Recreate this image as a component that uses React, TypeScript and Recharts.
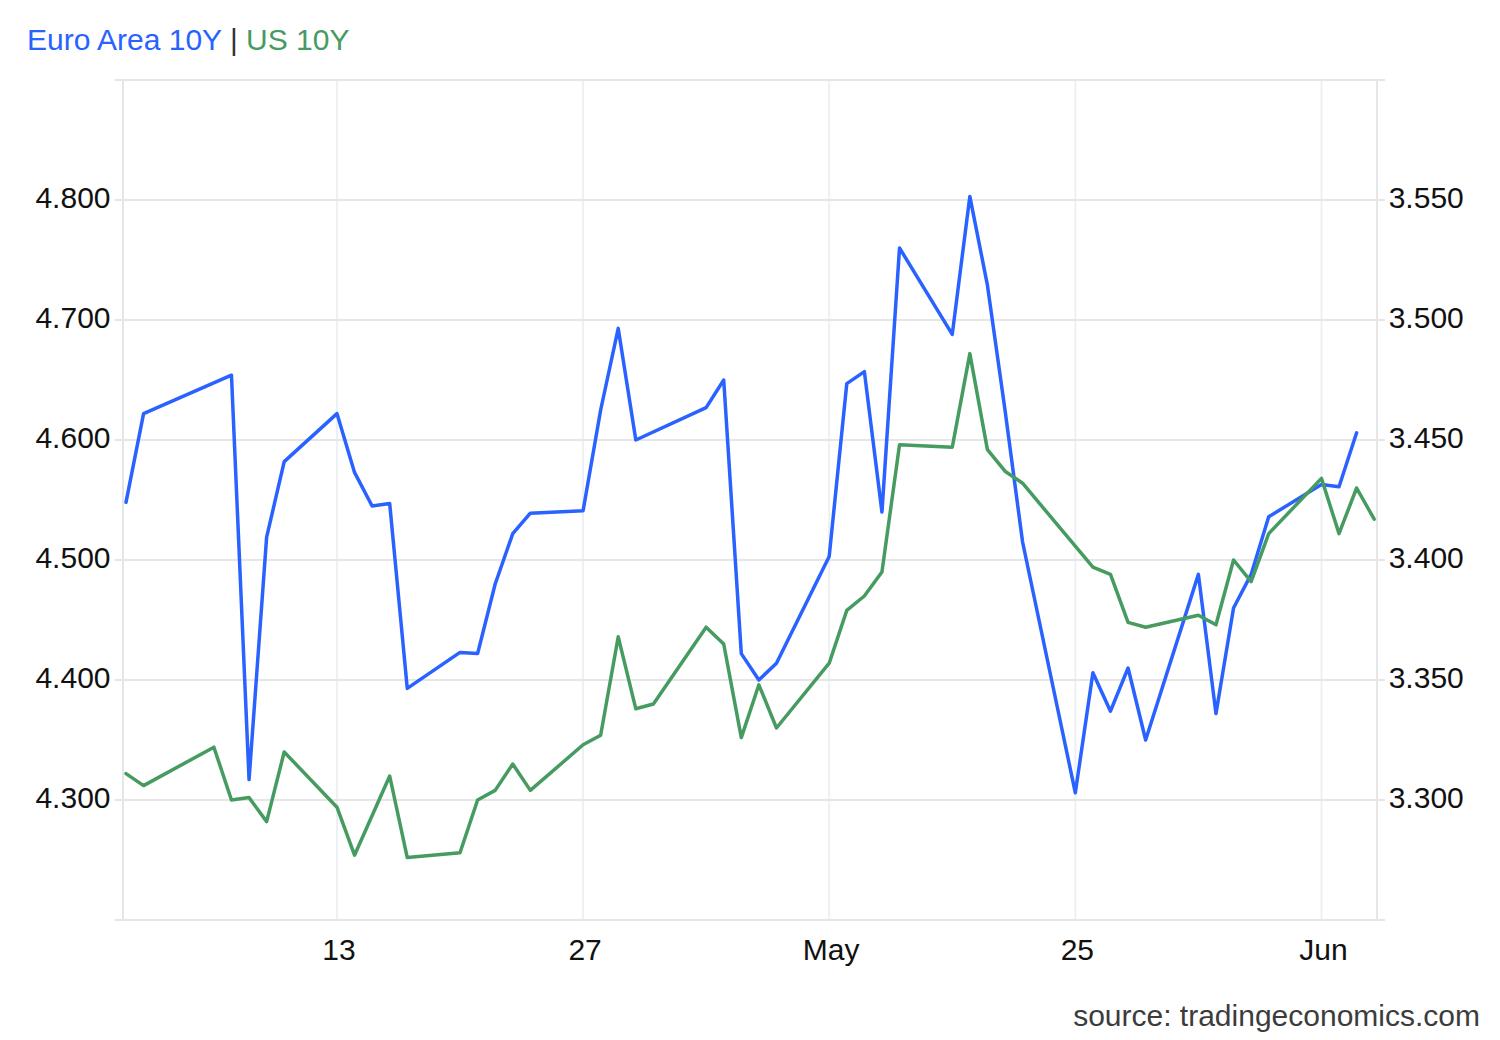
import React from "react";
import { LineChart, Line, XAxis, YAxis, CartesianGrid } from "recharts";

// x = day count, 1 = 1 Apr; ticks on 13 Apr, 27 Apr, 11 May, 25 May, 8 Jun
const euroDays = [
  1, 2, 7, 8, 9, 10, 13, 14, 15, 16, 17, 20, 21, 22, 23, 24, 27, 28, 29, 30,
  34, 35, 36, 37, 38, 41, 42, 43, 44, 45, 48, 49, 50, 51, 52, 55, 56, 57, 58,
  59, 62, 63, 64, 65, 66, 69, 70, 71,
];
const euroYields = [
  4.548, 4.622, 4.654, 4.317, 4.519, 4.582, 4.622, 4.573, 4.545, 4.547, 4.393,
  4.423, 4.422, 4.48, 4.522, 4.539, 4.541, 4.625, 4.693, 4.6, 4.627, 4.65,
  4.422, 4.4, 4.414, 4.503, 4.647, 4.657, 4.54, 4.76, 4.688, 4.803, 4.729,
  4.625, 4.515, 4.306, 4.406, 4.374, 4.41, 4.35, 4.488, 4.372, 4.46, 4.488,
  4.536, 4.563, 4.561, 4.606,
];

const usDays = [
  1, 2, 6, 7, 8, 9, 10, 13, 14, 16, 17, 20, 21, 22, 23, 24, 27, 28, 29, 30,
  31, 34, 35, 36, 37, 38, 41, 42, 43, 44, 45, 48, 49, 50, 51, 52, 56, 57, 58,
  59, 62, 63, 64, 65, 66, 69, 70, 71, 72,
];
const usYields = [
  3.311, 3.306, 3.322, 3.3, 3.301, 3.291, 3.32, 3.297, 3.277, 3.31, 3.276,
  3.278, 3.3, 3.304, 3.315, 3.304, 3.323, 3.327, 3.368, 3.338, 3.34, 3.372,
  3.365, 3.326, 3.348, 3.33, 3.357, 3.379, 3.385, 3.395, 3.448, 3.447, 3.486,
  3.446, 3.437, 3.432, 3.397, 3.394, 3.374, 3.372, 3.377, 3.373, 3.4, 3.391,
  3.411, 3.434, 3.411, 3.43, 3.417,
];

const xTicks = [13, 27, 41, 55, 69];
const xTickLabels = ["13", "27", "May", "25", "Jun"];
const leftTicks = [4.2, 4.3, 4.4, 4.5, 4.6, 4.7, 4.8, 4.9];
const rightTicks = [3.25, 3.3, 3.35, 3.4, 3.45, 3.5, 3.55, 3.6];

const euroData = euroDays.map((d, i) => ({ d, v: euroYields[i] }));
const usData = usDays.map((d, i) => ({ d, v: usYields[i] }));

const FONT = 'Arial, "Liberation Sans", Helvetica, sans-serif';
const BLUE = "#2962ff";
const GREEN = "#469b61";
const GRID = "#e6e6e6";

const isEnd = (v: number, ticks: number[]) =>
  Math.abs(v - ticks[0]) < 1e-6 || Math.abs(v - ticks[ticks.length - 1]) < 1e-6;

function LeftTick({ x, y, payload }: any) {
  if (isEnd(payload.value, leftTicks)) return <g />;
  return (
    <text x={x} y={y + 7.5} textAnchor="end" fontSize={30} fontFamily={FONT} fill="#111">
      {payload.value.toFixed(3)}
    </text>
  );
}

function RightTick({ x, y, payload }: any) {
  if (isEnd(payload.value, rightTicks)) return <g />;
  return (
    <text x={x} y={y + 8} textAnchor="start" fontSize={30} fontFamily={FONT} fill="#111">
      {payload.value.toFixed(3)}
    </text>
  );
}

function DateTick({ x, y, payload }: any) {
  const i = xTicks.indexOf(payload.value);
  return (
    <text x={x + 2} y={y + 32} textAnchor="middle" fontSize={30} fontFamily={FONT} fill="#111">
      {xTickLabels[i]}
    </text>
  );
}

export default function App() {
  return (
    <div style={{ position: "absolute", left: 0, top: 0, width: 1500, height: 1040, background: "#fff" }}>
      <LineChart width={1500} height={1040} margin={{ top: 80, right: 0, bottom: 60, left: 0 }}>
        <CartesianGrid yAxisId="left" horizontal={false} stroke="#edf0f4" strokeWidth={2} />
        <CartesianGrid yAxisId="left" vertical={false} stroke={GRID} strokeWidth={2} />
        <XAxis
          dataKey="d"
          type="number"
          domain={[0.83, 72.16]}
          allowDataOverflow
          ticks={xTicks}
          tick={<DateTick />}
          tickLine={false}
          axisLine={false}
          tickSize={8}
          tickMargin={0}
          height={60}
        />
        <YAxis
          yAxisId="left"
          orientation="left"
          width={123}
          domain={[4.2, 4.9]}
          ticks={leftTicks}
          allowDataOverflow
          tick={<LeftTick />}
          tickSize={8}
          tickMargin={4.5}
          tickLine={{ stroke: GRID, strokeWidth: 2 }}
          axisLine={{ stroke: GRID, strokeWidth: 2 }}
        />
        <YAxis
          yAxisId="right"
          orientation="right"
          width={123}
          domain={[3.25, 3.6]}
          ticks={rightTicks}
          allowDataOverflow
          tick={<RightTick />}
          tickSize={8}
          tickMargin={3.7}
          tickLine={{ stroke: GRID, strokeWidth: 2 }}
          axisLine={{ stroke: GRID, strokeWidth: 2 }}
        />
        <Line
          yAxisId="left"
          data={euroData}
          dataKey="v"
          type="linear"
          stroke={BLUE}
          strokeWidth={3.5}
          strokeLinejoin="round"
          strokeLinecap="round"
          dot={false}
          activeDot={false}
          isAnimationActive={false}
        />
        <Line
          yAxisId="right"
          data={usData}
          dataKey="v"
          type="linear"
          stroke={GREEN}
          strokeWidth={3.5}
          strokeLinejoin="round"
          strokeLinecap="round"
          dot={false}
          activeDot={false}
          isAnimationActive={false}
        />
      </LineChart>
      <svg width={1500} height={1040} style={{ position: "absolute", left: 0, top: 0, pointerEvents: "none" }}>
        <text x={27} y={50} fontSize={30} fontFamily={FONT}>
          <tspan fill={BLUE}>Euro Area 10Y</tspan>
          <tspan fill="#333"> | </tspan>
          <tspan fill={GREEN}>US 10Y</tspan>
        </text>
        <text x={1480} y={1026} textAnchor="end" fontSize={30} fontFamily={FONT} fill="#3c3c3c">
          source: tradingeconomics.com
        </text>
      </svg>
    </div>
  );
}
